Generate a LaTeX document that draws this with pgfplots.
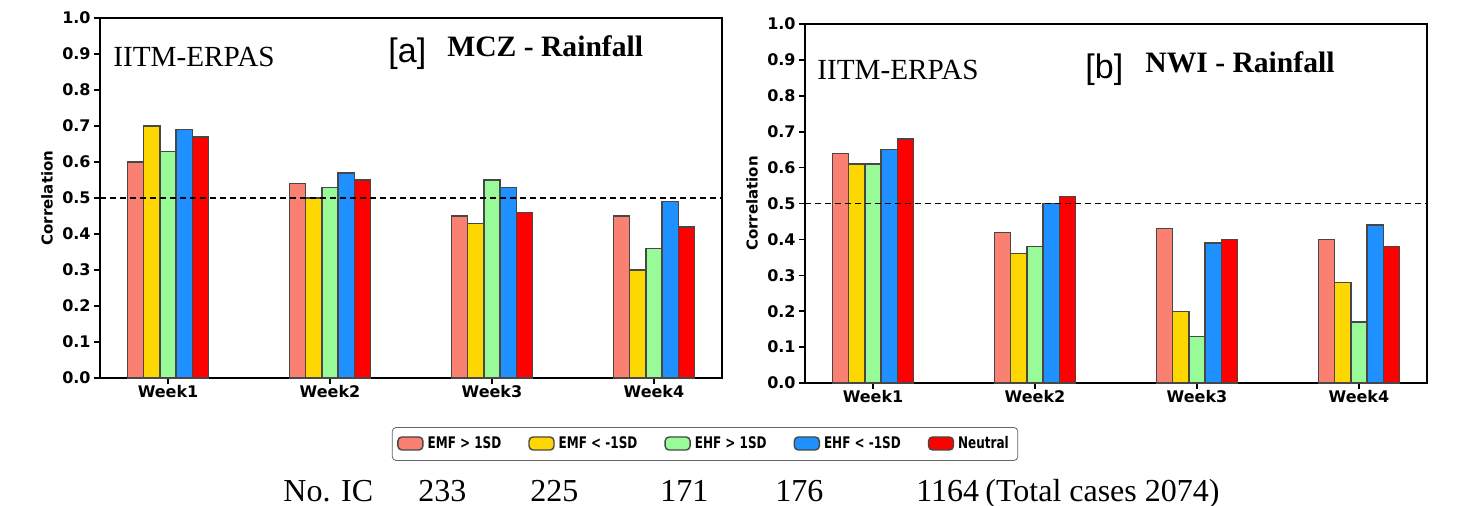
\documentclass[border=0pt]{standalone}
\usepackage{fontspec}
\setmainfont{Liberation Serif}
\newfontfamily\djfont{DejaVu Sans}
\newfontfamily\djcfont{DejaVu Sans}[FakeStretch=0.75]
\newfontfamily\lsans{Liberation Sans}
\usepackage{pgfplots}
\pgfplotsset{compat=1.18}
\definecolor{cA}{HTML}{FA8072}
\definecolor{cB}{HTML}{FFD700}
\definecolor{cC}{HTML}{98FB98}
\definecolor{cD}{HTML}{1E90FF}
\definecolor{cE}{HTML}{FF0000}
\pgfplotsset{
  mystyle/.style={
    scale only axis, width=311pt,
    xmin=0.58, xmax=4.42, ymin=0, ymax=1,
    ybar=0pt, bar width=0.1,
    xtick={1,2,3,4}, xticklabels={Week1,Week2,Week3,Week4},
    ytick={0,0.1,0.2,0.3,0.4,0.5,0.6,0.7,0.8,0.9,1.0},
    tick align=outside, major tick length=3pt, tick pos=left,
    axis line style={line width=1pt},
    tick style={line width=0.8pt, black},
    ticklabel style={font=\djfont\bfseries\fontsize{8}{9}\selectfont},
    xticklabel style={inner sep=0.6pt},
    yticklabel style={inner sep=1.5pt, /pgf/number format/fixed, /pgf/number format/fixed zerofill, /pgf/number format/precision=1, /pgf/number format/assume math mode=true},
    ylabel={Correlation},
    ylabel style={font=\djfont\bfseries\fontsize{7.5}{9}\selectfont, at={(axis description cs:-0.085,0.5)}, anchor=center},
    every axis plot/.append style={draw=black!72, line width=0.7pt},
  },
  leg/.style={legend image code/.code={\draw[##1,draw=black!72,line width=0.7pt] (0pt,-3pt) rectangle (12.5pt,3.5pt);}},
}
\begin{document}
\begin{tikzpicture}
\path[use as bounding box] (0,0) rectangle (731pt,252.5pt);
% left panel
\begin{axis}[mystyle, height=180pt, at={(50pt,63.5pt)}, anchor=south west,
  legend style={at={(0.9727,-0.1833)}, anchor=center, legend columns=5, draw=black!60, rounded corners=2pt,
    font=\djcfont\bfseries\fontsize{8}{9}\selectfont, inner sep=2.5pt,
    /tikz/every even column/.append style={column sep=11.5pt}},
  ]
\addplot[fill=cA, leg] coordinates {(1,0.60) (2,0.54) (3,0.45) (4,0.45)};
\addlegendentry{EMF > 1SD}
\addplot[fill=cB, leg] coordinates {(1,0.70) (2,0.50) (3,0.43) (4,0.30)};
\addlegendentry{EMF < -1SD}
\addplot[fill=cC, leg] coordinates {(1,0.63) (2,0.53) (3,0.55) (4,0.36)};
\addlegendentry{EHF > 1SD}
\addplot[fill=cD, leg] coordinates {(1,0.69) (2,0.57) (3,0.53) (4,0.49)};
\addlegendentry{EHF < -1SD}
\addplot[fill=cE, leg] coordinates {(1,0.67) (2,0.55) (3,0.46) (4,0.42)};
\addlegendentry{Neutral}
\addplot[sharp plot, forget plot, draw=black, dash pattern=on 3pt off 2pt, line width=0.8pt] coordinates {(0.58,0.5) (4.42,0.5)};
\end{axis}
% right panel
\begin{axis}[mystyle, height=179.5pt, at={(402.5pt,61pt)}, anchor=south west]
\addplot[fill=cA] coordinates {(1,0.64) (2,0.42) (3,0.43) (4,0.40)};
\addplot[fill=cB] coordinates {(1,0.61) (2,0.36) (3,0.20) (4,0.28)};
\addplot[fill=cC] coordinates {(1,0.61) (2,0.38) (3,0.13) (4,0.17)};
\addplot[fill=cD] coordinates {(1,0.65) (2,0.50) (3,0.39) (4,0.44)};
\addplot[fill=cE] coordinates {(1,0.68) (2,0.52) (3,0.40) (4,0.38)};
\addplot[sharp plot, forget plot, draw=black, dash pattern=on 3pt off 2pt, line width=0.8pt] coordinates {(0.58,0.5) (4.42,0.5)};
\end{axis}
% annotations
\node[anchor=base west, inner sep=0, font=\fontsize{14.6}{16}\selectfont] at (56.5pt,219.5pt) {IITM-ERPAS};
\node[anchor=base west, inner sep=0, font=\lsans\fontsize{17}{18}\selectfont] at (194pt,221.5pt) {[a]};
\node[anchor=base west, inner sep=0, font=\bfseries\fontsize{14.8}{16}\selectfont] at (223.5pt,224.5pt) {MCZ - Rainfall};
\node[anchor=base west, inner sep=0, font=\fontsize{14.6}{16}\selectfont] at (408.5pt,213pt) {IITM-ERPAS};
\node[anchor=base west, inner sep=0, font=\lsans\fontsize{17}{18}\selectfont] at (542.5pt,213.5pt) {[b]};
\node[anchor=base west, inner sep=0, font=\bfseries\fontsize{14.8}{16}\selectfont] at (572.5pt,216.5pt) {NWI - Rainfall};
% bottom line
\begin{scope}[every node/.style={anchor=base west, inner sep=0, font=\fontsize{16}{18}\selectfont}]
\node at (141.5pt,2pt) {No. IC};
\node at (209pt,2pt) {233};
\node at (265pt,2pt) {225};
\node at (330pt,2pt) {171};
\node at (387.5pt,2pt) {176};
\node at (458pt,2pt) {1164};
\node at (492.5pt,2pt) {(Total cases 2074)};
\end{scope}
\end{tikzpicture}
\end{document}
